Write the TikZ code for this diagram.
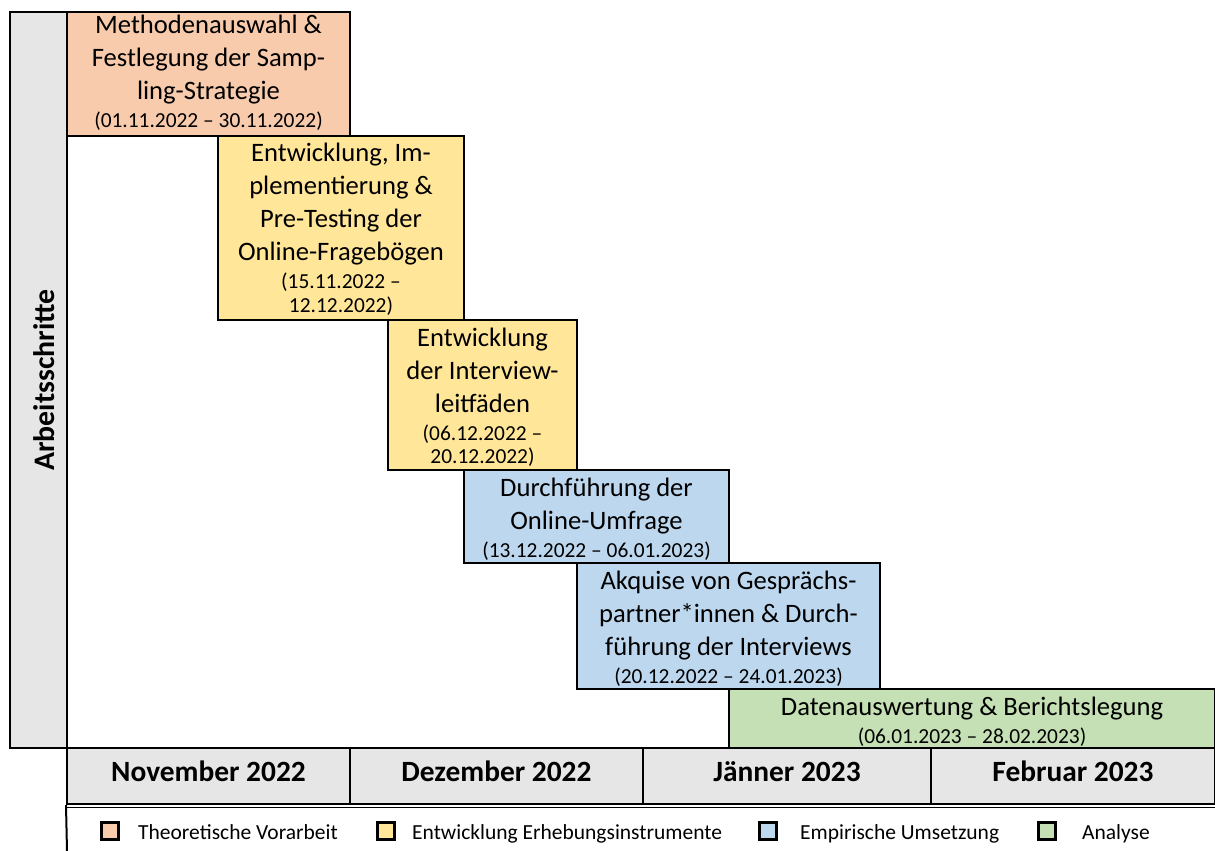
\documentclass[tikz,border=0pt]{standalone}
\usepackage{fontspec}
\setmainfont{Carlito}
\usetikzlibrary{fit}
\definecolor{cOrange}{HTML}{F8CBAD}
\definecolor{cYellow}{HTML}{FFE699}
\definecolor{cBlue}{HTML}{BDD7EE}
\definecolor{cGreen}{HTML}{C5E0B4}
\definecolor{cGrey}{HTML}{E7E6E6}
\newcommand\dt[1]{{\fontsize{21.4pt}{24pt}\selectfont #1}}
\tikzset{
  frame/.style={draw=black, line width=2pt, inner sep=0pt},
  taskbox/.style={frame},
  tasktext/.style={align=center, inner sep=0pt, font=\fontsize{26.6pt}{33pt}\selectfont},
  cell/.style={frame, fill=cGrey},
  month/.style={anchor=base, font=\fontsize{29.4pt}{32pt}\selectfont\bfseries, inner sep=0pt},
  legbox/.style={draw=black, line width=2.4pt, minimum size=17pt, inner sep=0pt},
  legtext/.style={anchor=base west, inner sep=0pt, font=\fontsize{21.5pt}{24pt}\selectfont},
}
\begin{document}
\begin{tikzpicture}[x=1pt, y=-1pt]
\useasboundingbox (0,0) rectangle (1215,851);
% axis column
\node[cell, fit={(10,12) (67,748)}] (axis) {};
\node[rotate=90, font=\fontsize{29.8pt}{32pt}\selectfont\bfseries, inner sep=0pt] (axislabel) at (44,380) {Arbeitsschritte};
% header cells
\node[cell, fit={(67,748) (350,804)}] (m1) {};
\node[cell, fit={(350,748) (643,804)}] (m2) {};
\node[cell, fit={(643,748) (931,804)}] (m3) {};
\node[cell, fit={(931,748) (1215,804)}] (m4) {};
\node[month] (m1t) at (m1.center |- 0,781) {November 2022};
\node[month] (m2t) at (m2.center |- 0,781) {Dezember 2022};
\node[month] (m3t) at (m3.center |- 0,781) {Jänner 2023};
\node[month] (m4t) at (m4.center |- 0,781) {Februar 2023};
\coordinate (dl) at (67,807.5);
\coordinate (dr) at (1215,807.5);
\draw[line width=1.2pt] (dl) -- (dr);
\coordinate (legbot) at (67,851);
\draw[line width=2pt] (m1.south west) -- (legbot);
% tasks
\node[taskbox, fill=cOrange, fit={(67,12) (350,136)}] (t1) {};
\node[taskbox, fill=cYellow, fit={(218,136) (464,320)}] (t2) {};
\node[taskbox, fill=cYellow, fit={(388,320) (577,470)}] (t3) {};
\node[taskbox, fill=cBlue, fit={(464,470) (729,563)}] (t4) {};
\node[taskbox, fill=cBlue, fit={(577,563) (880,689)}] (t5) {};
\node[taskbox, fill=cGreen, fit={(729,689) (1215,748)}] (t6) {};
\node[tasktext, yshift=1pt] (t1t) at (t1.center) {Methodenauswahl \&\\Festlegung der Samp-\\ling-Strategie\\[-5pt]\dt{(01.11.2022 – 30.11.2022)}};
\node[tasktext, yshift=-1pt] (t2t) at (t2.center) {Entwicklung, Im-\\plementierung \&\\Pre-Testing der\\Online-Fragebögen\\[-5pt]\dt{(15.11.2022 –}\\[-9.5pt]\dt{12.12.2022)}};
\node[tasktext, yshift=-2pt] (t3t) at (t3.center) {Entwicklung\\der Interview-\\leitfäden\\[-5pt]\dt{(06.12.2022 –}\\[-9.5pt]\dt{20.12.2022)}};
\node[tasktext, yshift=-2.5pt] (t4t) at (t4.center) {Durchführung der\\Online-Umfrage\\[-5pt]\dt{(13.12.2022 – 06.01.2023)}};
\node[tasktext, yshift=-3pt] (t5t) at (t5.center) {Akquise von Gesprächs-\\partner*innen \& Durch-\\führung der Interviews\\[-5pt]\dt{(20.12.2022 – 24.01.2023)}};
\node[tasktext, yshift=-3pt] (t6t) at (t6.center) {Datenauswertung \& Berichtslegung\\[-5pt]\dt{(06.01.2023 – 28.02.2023)}};
% legend
\node[legbox, fill=cOrange] (l1) at (110,831) {};
\node[legbox, fill=cYellow] (l2) at (386,831) {};
\node[legbox, fill=cBlue] (l3) at (768,831) {};
\node[legbox, fill=cGreen] (l4) at (1047,831) {};
\node[legtext] (l1t) at (138,839) {Theoretische Vorarbeit};
\node[legtext] (l2t) at (412,839) {Entwicklung Erhebungsinstrumente};
\node[legtext] (l3t) at (800,839) {Empirische Umsetzung};
\node[legtext] (l4t) at (1082,839) {Analyse};
\end{tikzpicture}
\end{document}
